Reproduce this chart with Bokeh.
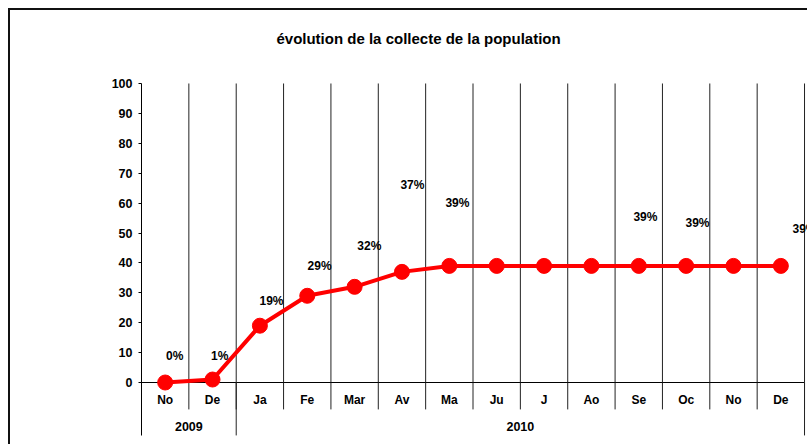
from bokeh.plotting import figure
from bokeh.models import Range1d, FixedTicker, ColumnDataSource, Label
from bokeh.embed import file_html
from bokeh.resources import INLINE
from bokeh.core.properties import value

# ---- data ----
title_text = "évolution de la collecte de la population"
months = ["No", "De", "Ja", "Fe", "Mar", "Av", "Ma", "Ju", "J", "Ao", "Se", "Oc", "No", "De"]
years = ["2009", "2010"]
year_first = [0, 2]          # index of first month of each year
year_last = [1, 13]          # index of last month of each year
collecte = [0, 1, 19, 29, 32, 37, 39, 39, 39, 39, 39, 39, 39, 39]
y_ticks = [0, 10, 20, 30, 40, 50, 60, 70, 80, 90, 100]

# data labels (manually placed in the original)
label_idx = [0, 1, 2, 3, 4, 5, 6, 10, 11, 13]
label_dx = [0.20, 0.15, 0.245, 0.26, 0.31, 0.22, 0.17, 0.14, 0.24, 0.50]
label_y = [8.7, 8.7, 27.1, 38.8, 45.8, 65.9, 60.2, 55.5, 53.5, 51.5]

FONT = "Liberation Sans"
n = len(months)
xs = list(range(n))

p = figure(width=799, height=436, output_backend="svg", toolbar_location=None,
           x_range=Range1d(-0.5, 13.605), y_range=Range1d(-21.4, 124.41),
           x_axis_location=None, min_border_left=131, min_border_right=0,
           min_border_top=0, min_border_bottom=0)
p.styles = {"margin-left": "8px", "margin-top": "8px",
            "border-top": "2px solid #111", "border-left": "2px solid #111"}
p.outline_line_color = None
p.xgrid.visible = False
p.ygrid.visible = False
p.background_fill_color = "white"
p.border_fill_color = "white"

# chart title
p.add_layout(Label(x=5.35, y=115.0, text=title_text, text_align="center", text_baseline="middle",
                   text_font=FONT, text_font_size="15px", text_font_style="bold", text_color="black"))

ax = p.yaxis[0]
ax.ticker = FixedTicker(ticks=y_ticks)
ax.bounds = (-17.7, 100)
ax.axis_line_color = "black"
ax.major_tick_out = 3
ax.major_tick_in = 0
ax.minor_tick_line_color = None
ax.major_label_text_font = FONT
ax.major_label_text_font_size = "12.5px"
ax.major_label_text_font_style = "bold"
ax.major_label_text_color = "black"
ax.major_label_standoff = 6

# vertical gridlines between categories
bounds = [i + 0.5 for i in range(n)]
p.segment(x0=bounds, x1=bounds, y0=[0] * n, y1=[100] * n, line_color="#222222", line_width=1)

# category axis line
p.segment(x0=[-0.5], x1=[n - 0.5], y0=[0], y1=[0], line_color="black", line_width=1)

# month separators below axis
p.segment(x0=bounds, x1=bounds, y0=[0] * n, y1=[-9] * n, line_color="#222222", line_width=1)
# year separators
ysep = [year_last[i] + 0.5 for i in range(len(years))]
p.segment(x0=ysep, x1=ysep, y0=[0] * len(ysep), y1=[-17.7] * len(ysep), line_color="#222222", line_width=1)

# month labels
p.text(x=xs, y=[-6.0] * n, text=months, text_align="center", text_baseline="middle",
       text_font=value(FONT), text_font_size="12px", text_font_style="bold", text_color="black")
# year labels
ycent = [(year_first[i] + year_last[i]) / 2 for i in range(len(years))]
p.text(x=ycent, y=[-14.8] * len(years), text=years, text_align="center", text_baseline="middle",
       text_font=value(FONT), text_font_size="12.5px", text_font_style="bold", text_color="black")

# series
src = ColumnDataSource(dict(x=xs, y=collecte))
p.line("x", "y", source=src, line_color="#FF0000", line_width=4)
p.scatter("x", "y", source=src, size=15, fill_color="#FF0000", line_color="#FF0000")

# data labels
lx = [label_idx[i] + label_dx[i] for i in range(len(label_idx))]
lt = [f"{collecte[j]}%" for j in label_idx]
p.text(x=lx, y=label_y, text=lt, text_align="center", text_baseline="middle",
       text_font=value(FONT), text_font_size="12px", text_font_style="bold", text_color="black")

open("out.html", "w").write(file_html(p, INLINE))
